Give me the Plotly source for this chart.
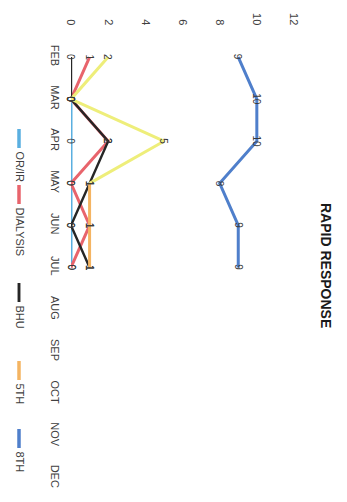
import plotly.graph_objects as go

# Monthly rapid response counts by unit
months = ["FEB", "MAR", "APR", "MAY", "JUN", "JUL", "AUG", "SEP", "OCT", "NOV", "DEC"]
value_ticks = [0, 2, 4, 6, 8, 10, 12]

or_ir = [None, 0, 0, 0, 0, 0, None, None, None, None, None]
dialysis = [1, 0, 2, 0, 1, 0, None, None, None, None, None]
bhu = [0, 0, 2, 1, 0, 1, None, None, None, None, None]
fifth = [2, 0, 5, 1, 1, 1, None, None, None, None, None]
eighth = [9, 10, 10, 8, 9, 9, None, None, None, None, None]

series_names = ["OR/IR", "DIALYSIS", "BHU", "5TH", "8TH"]
series_values = [or_ir, dialysis, bhu, fifth, eighth]
series_colors = ["#5AAFE0", "#E8646C", "#262626", "#F4B462", "#4F7FCB"]
series_widths = [3, 3, 2.4, 3, 3]
early_fifth_color = "#EEEE7A"

W, H = 347, 502
L, R, T, B = 71, 53, 36, 3
PW, PH = W - L - R, H - T - B


def px_x(px):
    return (px - L) / PW


def px_y(py):
    return (H - B - py) / PH


fig = go.Figure()

for name, vals, color, width in zip(series_names, series_values, series_colors, series_widths):
    if name == "5TH":
        # first stretch of the 5TH line is drawn in yellow
        fig.add_trace(go.Scatter(x=vals[:4], y=months[:4], mode="lines",
                                 line=dict(color=early_fifth_color, width=width),
                                 showlegend=False, hoverinfo="skip"))
        fig.add_trace(go.Scatter(x=vals[3:], y=months[3:], mode="lines",
                                 line=dict(color=color, width=width),
                                 showlegend=False, name=name))
    else:
        fig.add_trace(go.Scatter(x=vals, y=months, mode="lines",
                                 line=dict(color=color, width=width),
                                 showlegend=False, name=name))

annotations = []
# value labels sitting on each point
for vals in series_values:
    for m, v in zip(months, vals):
        if v is None:
            continue
        annotations.append(dict(x=v, y=m, xref="x", yref="y", text=str(v),
                                showarrow=False, textangle=90,
                                font=dict(family="Liberation Sans, Arial", size=10, color="#3a3a3a")))

# rotated legend along the left edge
legend_start_px = [129, 185, 283, 361, 429]
for name, color, width, y0 in zip(series_names, series_colors, series_widths, legend_start_px):
    fig.add_shape(type="line", xref="paper", yref="paper",
                  x0=px_x(19), x1=px_x(19), y0=px_y(y0), y1=px_y(y0 + 19),
                  line=dict(color=color, width=width + 0.5))
    annotations.append(dict(x=px_x(20), y=px_y(y0 + 20), xref="paper", yref="paper",
                            text=name, showarrow=False, textangle=90,
                            xanchor="center", yanchor="top",
                            font=dict(family="Liberation Sans, Arial", size=11, color="#404040")))

# chart title
annotations.append(dict(x=px_x(326), y=px_y(265), xref="paper", yref="paper",
                        text="<b>RAPID RESPONSE</b>", showarrow=False, textangle=90,
                        xanchor="center", yanchor="middle",
                        font=dict(family="Liberation Sans, Arial", size=14, color="#1a1a1a")))

fig.update_layout(
    width=W, height=H,
    margin=dict(l=L, r=R, t=T, b=B),
    paper_bgcolor="white", plot_bgcolor="white",
    annotations=annotations,
    xaxis=dict(range=[0, 12], tickvals=value_ticks, side="top", tickangle=90,
               showgrid=False, zeroline=False, showline=False, ticks="",
               ticklabelstandoff=8,
               tickfont=dict(family="Liberation Sans, Arial", size=11, color="#404040")),
    yaxis=dict(type="category", categoryorder="array", categoryarray=months,
               range=[len(months) - 0.5, -0.5], tickangle=90,
               showgrid=False, zeroline=False, showline=False, ticks="",
               ticklabelstandoff=8,
               tickfont=dict(family="Liberation Sans, Arial", size=11, color="#404040")),
)

fig.write_html("out.html")
